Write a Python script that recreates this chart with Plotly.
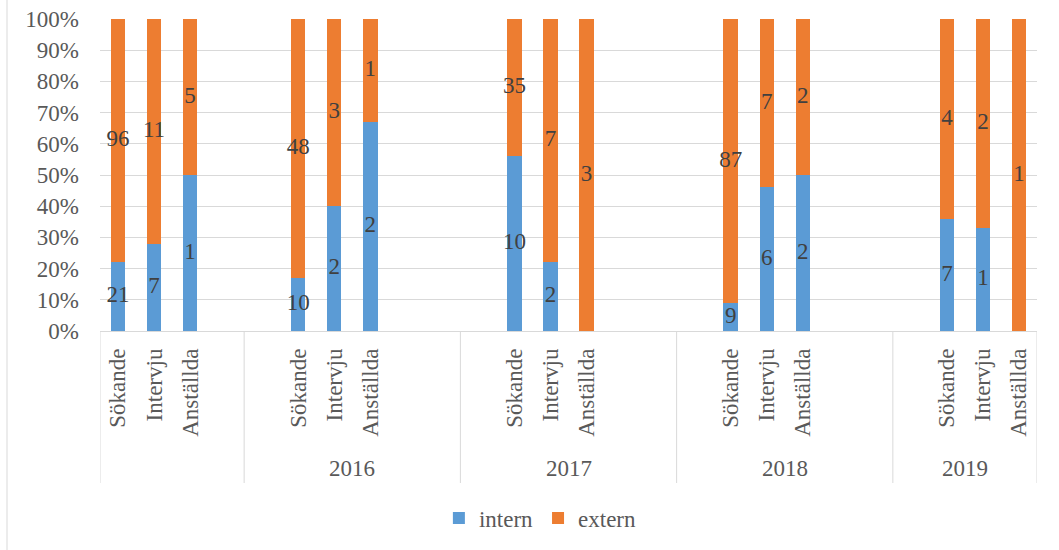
import plotly.graph_objects as go

# Recruitment funnel: internal vs external share per year and stage
years = ["", "2016", "2017", "2018", "2019"]
stages = ["Sökande", "Intervju", "Anställda"]

# share of internal candidates (%) per year block and stage
intern_pct = [
    [22, 28, 50],
    [17, 40, 67],
    [56, 22, 0],
    [9, 46, 50],
    [36, 33, 0],
]

# head counts printed on the segments
intern_n = [
    [21, 7, 1],
    [10, 2, 2],
    [10, 2, None],
    [9, 6, 2],
    [7, 1, None],
]
extern_n = [
    [96, 11, 5],
    [48, 3, 1],
    [35, 7, 3],
    [87, 7, 2],
    [4, 2, 1],
]

# category slots on the axis per year block, and slot of the first stage in each block
block_slots = [4, 6, 6, 6, 4]
first_slot = [0, 1, 1, 1, 1]

BLUE = "#5B9BD5"
ORANGE = "#ED7D31"
GRID = "#D9D9D9"
TXT = "#595959"
LBL = "#404040"
FONT = "Liberation Serif"

# flatten into axis positions
xs, ticktext, y_in, y_ex, t_in, t_ex = [], [], [], [], [], []
block_start = []
pos = 0
for b, n_slots in enumerate(block_slots):
    block_start.append(pos)
    for i, st in enumerate(stages):
        xs.append(pos + first_slot[b] + i)
        ticktext.append(st)
        y_in.append(intern_pct[b][i])
        y_ex.append(100 - intern_pct[b][i])
        t_in.append("" if intern_n[b][i] is None else str(intern_n[b][i]))
        t_ex.append("" if extern_n[b][i] is None else str(extern_n[b][i]))
    pos += n_slots
total_slots = pos

fig = go.Figure()
fig.add_trace(go.Bar(x=xs, y=y_in, name="intern", marker=dict(color=BLUE, line=dict(width=0)),
                     width=0.4, hoverinfo="skip"))
fig.add_trace(go.Bar(x=xs, y=y_ex, name="extern", marker=dict(color=ORANGE, line=dict(width=0)),
                     width=0.4, hoverinfo="skip"))

# segment labels at the middle of each segment
fig.add_trace(go.Scatter(
    x=xs + xs,
    y=[v / 2 for v in y_in] + [a + e / 2 for a, e in zip(y_in, y_ex)],
    text=t_in + t_ex,
    mode="text",
    textfont=dict(family=FONT, size=23, color=LBL),
    showlegend=False, hoverinfo="skip",
))

px_plot_h = 312.0
def py(px_below_axis):
    return -px_below_axis / px_plot_h

shapes = []
# block dividers under the axis
bounds = [s - 0.5 for s in block_start] + [total_slots - 0.5]
for xb in bounds:
    shapes.append(dict(type="line", xref="x", yref="paper", x0=xb, x1=xb,
                       y0=0, y1=py(152), line=dict(color=GRID, width=1)))
# chart frame edge on the left
shapes.append(dict(type="line", xref="paper", yref="paper", x0=-93 / 937, x1=-93 / 937,
                   y0=py(219), y1=1 + 19 / px_plot_h, line=dict(color=GRID, width=1)))

annotations = []
for b, yr in enumerate(years):
    if yr:
        annotations.append(dict(x=block_start[b] + (block_slots[b] - 1) / 2, y=py(137),
                                xref="x", yref="paper", text=yr, showarrow=False,
                                font=dict(family=FONT, size=23, color=TXT),
                                xanchor="center", yanchor="middle"))

fig.update_layout(
    width=1059, height=550,
    margin=dict(l=100, r=22, t=19, b=219, autoexpand=False),
    paper_bgcolor="white", plot_bgcolor="white",
    barmode="stack",
    font=dict(family=FONT, size=23, color=TXT),
    showlegend=True,
    legend=dict(orientation="h", x=0.47, xanchor="center", y=py(187), yanchor="middle",
                font=dict(family=FONT, size=23, color=TXT), traceorder="normal"),
    shapes=shapes,
    annotations=annotations,
    xaxis=dict(range=[-0.5, total_slots - 0.5], tickmode="array", tickvals=xs, ticktext=ticktext,
               tickangle=-90, showgrid=False, zeroline=False, showline=False, ticks="",
               automargin=False,
               ticklabelstandoff=12, tickfont=dict(family=FONT, size=23, color=TXT), fixedrange=True),
    yaxis=dict(range=[0, 100], dtick=10, ticksuffix="%", showgrid=True, gridcolor=GRID, gridwidth=1,
               zeroline=True, zerolinecolor=GRID, zerolinewidth=1, showline=False, ticks="",
               automargin=False,
               ticklabelstandoff=20, tickfont=dict(family=FONT, size=23, color=TXT), fixedrange=True),
)

fig.write_html("out.html")
